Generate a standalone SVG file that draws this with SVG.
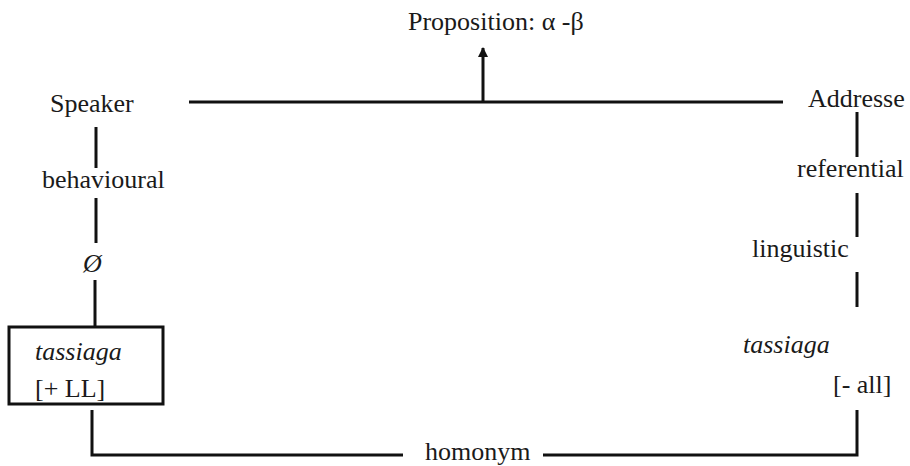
<svg xmlns="http://www.w3.org/2000/svg" width="910" height="466" viewBox="0 0 910 466">
<style>
text{font-family:'Liberation Serif',Tinos,'Times New Roman',Times,'DejaVu Serif',serif;font-size:26px;fill:#1a1a1a}
.it{font-style:italic}
.ln{stroke:#111;stroke-width:3;fill:none}
.box{stroke:#111;stroke-width:3;fill:#fff}
</style>
<defs>
<marker id="ah" viewBox="0 0 10 10" refX="9" refY="5" markerWidth="10" markerHeight="10" markerUnits="userSpaceOnUse" orient="auto">
<path d="M0,0 L10,5 L0,10 z" fill="#111"/>
</marker>
</defs>
<g id="connectors">
<line class="ln" x1="189" y1="102" x2="783" y2="102" stroke-width="2.5"/>
<line class="ln" x1="483" y1="102" x2="483" y2="48" marker-end="url(#ah)"/>
<line class="ln" x1="96" y1="127" x2="96" y2="168"/>
<line class="ln" x1="96" y1="198" x2="96" y2="243"/>
<line class="ln" x1="95" y1="280" x2="95" y2="327"/>
<polyline class="ln" points="92,410 92,455 403,455"/>
<polyline class="ln" points="543,455 857,455 857,410"/>
<line class="ln" x1="857" y1="112" x2="857" y2="157"/>
<line class="ln" x1="857" y1="193" x2="857" y2="237"/>
<line class="ln" x1="857" y1="272" x2="857" y2="307"/>
</g>
<g id="proposition"><text x="408" y="30">Proposition: α -β</text></g>
<g id="speaker"><text x="50" y="112">Speaker</text></g>
<g id="addresse"><text x="808" y="107">Addresse</text></g>
<g id="behavioural"><text x="42" y="188">behavioural</text></g>
<g id="null"><text class="it" x="83" y="272">Ø</text></g>
<g id="tassiaga-ll">
<rect class="box" x="9" y="327" width="154" height="77"/>
<text class="it" x="35" y="360">tassiaga</text>
<text x="35" y="397">[+ LL]</text>
</g>
<g id="referential"><text x="797" y="177">referential</text></g>
<g id="linguistic"><text x="752" y="257">linguistic</text></g>
<g id="tassiaga-all">
<text class="it" x="743" y="353">tassiaga</text>
<text x="833" y="393">[- all]</text>
</g>
<g id="homonym"><text x="425" y="460">homonym</text></g>
</svg>
